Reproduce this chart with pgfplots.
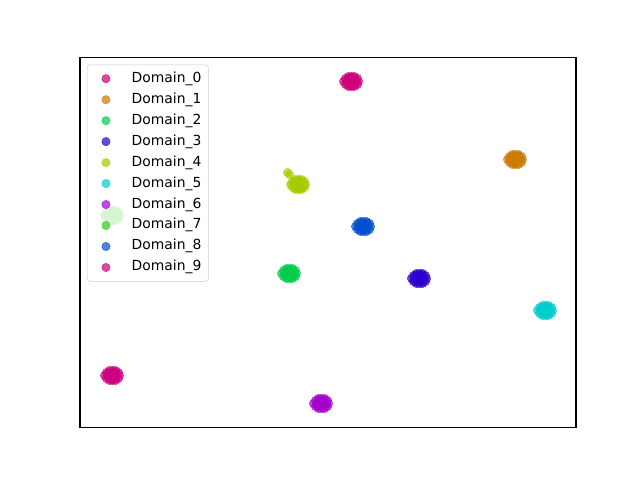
\documentclass[border=0pt]{standalone}
\usepackage{pgfplots}
\pgfplotsset{compat=1.18}
\usepackage{fontspec}
\setmainfont{DejaVu Sans}
\definecolor{c0}{HTML}{CC0077}
\definecolor{c1}{HTML}{CC7A00}
\definecolor{c2}{HTML}{00CC4A}
\definecolor{c3}{HTML}{2A00CC}
\definecolor{c4}{HTML}{A6CC00}
\definecolor{c5}{HTML}{00CCCC}
\definecolor{c6}{HTML}{A300CC}
\definecolor{c7}{HTML}{33CC11}
\definecolor{c8}{HTML}{0050CC}
\definecolor{c9}{HTML}{CC0080}
\pgfplotsset{dom/.style={only marks, mark=*, mark size=3pt, color=#1, opacity=0.7}}
\begin{document}
\begin{tikzpicture}
\path (-57.6pt,-38.016pt) rectangle (403.2pt,307.584pt);
\begin{axis}[name=ax, at={(0,0)}, anchor=south west, scale only axis,
  width=357.12pt, height=266.112pt,
  xmin=79.5, xmax=575.5, ymin=57.1, ymax=426.7, y dir=reverse,
  xtick=\empty, ytick=\empty,
  axis line style={line width=0.8pt, black},
  legend cell align=left,
  legend image code/.code={\draw[#1] plot coordinates {(8.5pt,0pt)};\path[draw=none,fill=none] (0pt,-4pt) rectangle (17pt,4pt);},
  legend style={at={(0,1)}, anchor=north west, xshift=5pt, yshift=-5pt,
    draw=black!20, rounded corners=2pt, fill=white, fill opacity=0.8, draw opacity=1, text opacity=1,
    font=\fontsize{10}{12}\selectfont, inner xsep=5pt, inner ysep=5pt,
    nodes={inner sep=0pt, text height=7.5pt, text depth=2.5pt, anchor=west},
    row sep=5.1pt, column sep=10pt},
]
\addplot[dom=c0] coordinates {(348,76)(351,76)(354,76)(345,78)(348,78)(351,78)(354,78)(357,78)(343,81)(346,81)(349,81)(352,81)(355,81)(358,81)(345,84)(348,84)(351,84)(354,84)(357,84)(348,86)(351,86)(354,86)};
\addlegendentry{Domain\_0}
\addplot[dom=c1] coordinates {(512,154)(515,154)(518,154)(509,156)(512,156)(515,156)(518,156)(521,156)(507,159)(510,159)(513,159)(516,159)(519,159)(522,159)(509,162)(512,162)(515,162)(518,162)(521,162)(512,164)(515,164)(518,164)};
\addlegendentry{Domain\_1}
\addplot[dom=c2] coordinates {(286,268)(289,268)(292,268)(283,270)(286,270)(289,270)(292,270)(295,270)(281,273)(284,273)(287,273)(290,273)(293,273)(296,273)(283,276)(286,276)(289,276)(292,276)(295,276)(286,278)(289,278)(292,278)};
\addlegendentry{Domain\_2}
\addplot[dom=c3] coordinates {(416,273)(419,273)(422,273)(413,275)(416,275)(419,275)(422,275)(425,275)(411,278)(414,278)(417,278)(420,278)(423,278)(426,278)(413,281)(416,281)(419,281)(422,281)(425,281)(416,283)(419,283)(422,283)};
\addlegendentry{Domain\_3}
\addplot[dom=c4] coordinates {(295,179)(298,179)(301,179)(292,181)(295,181)(298,181)(301,181)(304,181)(290,184)(293,184)(296,184)(299,184)(302,184)(305,184)(292,187)(295,187)(298,187)(301,187)(304,187)(295,189)(298,189)(301,189)(287,172)(289,174)};
\addlegendentry{Domain\_4}
\addplot[dom=c5] coordinates {(542,305)(545,305)(548,305)(539,307)(542,307)(545,307)(548,307)(551,307)(537,310)(540,310)(543,310)(546,310)(549,310)(552,310)(539,313)(542,313)(545,313)(548,313)(551,313)(542,315)(545,315)(548,315)};
\addlegendentry{Domain\_5}
\addplot[dom=c6] coordinates {(318,398)(321,398)(324,398)(315,400)(318,400)(321,400)(324,400)(327,400)(313,403)(316,403)(319,403)(322,403)(325,403)(328,403)(315,406)(318,406)(321,406)(324,406)(327,406)(318,408)(321,408)(324,408)};
\addlegendentry{Domain\_6}
\addplot[dom=c7] coordinates {(109,210)(112,210)(115,210)(106,212)(109,212)(112,212)(115,212)(118,212)(104,215)(107,215)(110,215)(113,215)(116,215)(119,215)(106,218)(109,218)(112,218)(115,218)(118,218)(109,220)(112,220)(115,220)};
\addlegendentry{Domain\_7}
\addplot[dom=c8] coordinates {(360,221)(363,221)(366,221)(357,223)(360,223)(363,223)(366,223)(369,223)(355,226)(358,226)(361,226)(364,226)(367,226)(370,226)(357,229)(360,229)(363,229)(366,229)(369,229)(360,231)(363,231)(366,231)};
\addlegendentry{Domain\_8}
\addplot[dom=c9] coordinates {(109,370)(112,370)(115,370)(106,372)(109,372)(112,372)(115,372)(118,372)(104,375)(107,375)(110,375)(113,375)(116,375)(119,375)(106,378)(109,378)(112,378)(115,378)(118,378)(109,380)(112,380)(115,380)};
\addlegendentry{Domain\_9}
\end{axis}
\end{tikzpicture}
\end{document}
